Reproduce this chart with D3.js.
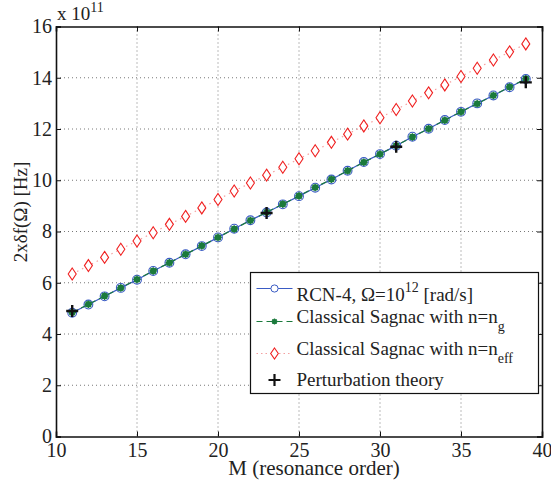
<!DOCTYPE html>
<html>
<head>
<meta charset="utf-8">
<script src="https://cdn.jsdelivr.net/npm/d3@7"></script>
<style>
  body { margin: 0; background: #fff; }
  text { font-family: "Liberation Serif", "Times New Roman", serif; fill: #222; }
</style>
</head>
<body>
<div id="chart"></div>
<script>
const CHART_ID = "chart";

// resonance order M
const orders = d3.range(11, 40);
// RCN-4, Omega = 1e12 rad/s  (x 1e11 Hz)
const rcnValues = [4.83, 5.15, 5.47, 5.80, 6.12, 6.46, 6.78, 7.11, 7.43, 7.77,
  8.11, 8.44, 8.74, 9.06, 9.38, 9.71, 10.03, 10.37, 10.71, 11.02,
  11.35, 11.70, 12.01, 12.35, 12.67, 13.00, 13.31, 13.63, 13.95];
// classical Sagnac with n = n_g
const sagnacGroup = [4.84, 5.16, 5.48, 5.80, 6.13, 6.46, 6.78, 7.11, 7.44, 7.77,
  8.10, 8.43, 8.75, 9.07, 9.39, 9.72, 10.04, 10.37, 10.70, 11.02,
  11.35, 11.69, 12.01, 12.34, 12.67, 12.99, 13.31, 13.64, 13.96];
// classical Sagnac with n = n_eff
const sagnacEff = [6.34, 6.67, 6.99, 7.31, 7.63, 7.95, 8.28, 8.59, 8.92, 9.25,
  9.58, 9.89, 10.20, 10.51, 10.84, 11.15, 11.48, 11.80, 12.12, 12.44,
  12.76, 13.09, 13.41, 13.72, 14.05, 14.37, 14.69, 15.01, 15.32];
// perturbation theory
const pertOrders = [11, 23, 31, 39];
const pertValues = [4.90, 8.72, 11.31, 13.82];

const xTicks = [10, 15, 20, 25, 30, 35, 40];
const yTicks = [0, 2, 4, 6, 8, 10, 12, 14, 16];

const size = { width: 551, height: 485 };
const margin = { top: 26.5, right: 9, bottom: 48.5, left: 56 };
const colors = { blue: "#3a5bc4", green: "#1b7a3c", red: "#f02020", pink: "#f4a0a0", black: "#111" };
const FONT = "Liberation Serif";

function drawChart() {
  const svg = d3.select("#" + CHART_ID).append("svg")
    .attr("width", size.width)
    .attr("height", size.height);

  const w = size.width - margin.left - margin.right;
  const h = size.height - margin.top - margin.bottom;

  const x = d3.scaleLinear().domain([10, 40]).range([0, w]);
  const y = d3.scaleLinear().domain([0, 16]).range([h, 0]);

  const g = svg.append("g").attr("transform", `translate(${margin.left},${margin.top})`);

  // dotted grid
  g.append("g").selectAll("line").data(xTicks.slice(1, -1)).join("line")
    .attr("x1", d => x(d)).attr("x2", d => x(d)).attr("y1", 0).attr("y2", h)
    .attr("stroke", "#555").attr("stroke-width", 0.8).attr("stroke-dasharray", "1,3");
  g.append("g").selectAll("line").data(yTicks.slice(1, -1)).join("line")
    .attr("y1", d => y(d)).attr("y2", d => y(d)).attr("x1", 0).attr("x2", w)
    .attr("stroke", "#555").attr("stroke-width", 0.8).attr("stroke-dasharray", "1,3");

  // axes with inward ticks on all four sides
  const xAxis = g.append("g").attr("transform", `translate(0,${h})`)
    .call(d3.axisBottom(x).tickValues(xTicks).tickSize(-5).tickPadding(6));
  const yAxis = g.append("g")
    .call(d3.axisLeft(y).tickValues(yTicks).tickSize(-5).tickPadding(4));
  g.append("g").call(d3.axisTop(x).tickValues(xTicks).tickSize(-5).tickFormat(""));
  g.append("g").attr("transform", `translate(${w},0)`)
    .call(d3.axisRight(y).tickValues(yTicks).tickSize(-5).tickFormat(""));
  g.selectAll(".domain").attr("stroke", "#111").attr("stroke-width", 1.6);
  g.selectAll(".tick line").attr("stroke", "#111");
  [xAxis, yAxis].forEach(a => {
    a.attr("font-family", FONT).attr("font-size", 20);
    a.selectAll("text").style("font-family", FONT).style("font-size", "20px").attr("fill", "#222");
  });

  const line = (xs, ys) => d3.line().x((d, i) => x(xs[i])).y(d => y(d))(ys);

  // RCN-4 line
  g.append("path").attr("d", line(orders, rcnValues))
    .attr("fill", "none").attr("stroke", colors.blue).attr("stroke-width", 1.2);
  g.append("g").selectAll("circle").data(rcnValues).join("circle")
    .attr("cx", (d, i) => x(orders[i])).attr("cy", d => y(d)).attr("r", 4.4)
    .attr("fill", "none").attr("stroke", colors.blue).attr("stroke-width", 1.1);

  // n = n_g
  g.append("path").attr("d", line(orders, sagnacGroup))
    .attr("fill", "none").attr("stroke", colors.green).attr("stroke-width", 1.2)
    .attr("stroke-dasharray", "6,4");
  g.append("g").selectAll("g").data(sagnacGroup).join("g")
    .attr("transform", (d, i) => `translate(${x(orders[i])},${y(d)})`)
    .each(function() { drawAsterisk(d3.select(this), 3.8); });

  // n = n_eff
  g.append("path").attr("d", line(orders, sagnacEff))
    .attr("fill", "none").attr("stroke", colors.pink).attr("stroke-width", 1.2)
    .attr("stroke-dasharray", "1.5,4");
  g.append("g").selectAll("path").data(sagnacEff).join("path")
    .attr("transform", (d, i) => `translate(${x(orders[i])},${y(d)})`)
    .attr("d", "M0,-6L4,0L0,6L-4,0Z")
    .attr("fill", "#fff").attr("stroke", colors.red).attr("stroke-width", 1.1);

  // perturbation theory
  g.append("g").selectAll("path").data(pertValues).join("path")
    .attr("transform", (d, i) => `translate(${x(pertOrders[i])},${y(d)})`)
    .attr("d", "M-6,0H6M0,-6V6")
    .attr("stroke", colors.black).attr("stroke-width", 2.4);

  // exponent label
  const expo = svg.append("text").attr("x", 57).attr("y", 20).style("font-size", "19px");
  expo.append("tspan").text("x 10");
  expo.append("tspan").attr("dy", -8).style("font-size", "14px").text("11");

  // axis labels
  svg.append("text").attr("x", margin.left + w / 2 + 15).attr("y", 475)
    .attr("text-anchor", "middle").style("font-size", "21px").text("M (resonance order)");
  svg.append("text").attr("transform", "translate(27,212) rotate(-90)")
    .attr("text-anchor", "middle").style("font-size", "19px").text("2xδf(Ω) [Hz]");

  drawLegend(svg);
}

function drawAsterisk(sel, r) {
  sel.append("circle").attr("r", r * 0.85).attr("fill", colors.green);
  sel.append("path")
    .attr("d", `M${-r},0H${r}M0,${-r}V${r}M${-r * 0.7},${-r * 0.7}L${r * 0.7},${r * 0.7}M${-r * 0.7},${r * 0.7}L${r * 0.7},${-r * 0.7}`)
    .attr("stroke", colors.green).attr("stroke-width", 1.3);
}

function drawLegend(svg) {
  const box = { x: 250.5, y: 272.5, width: 288, height: 121 };
  const lg = svg.append("g");
  lg.append("rect").attr("x", box.x).attr("y", box.y).attr("width", box.width).attr("height", box.height)
    .attr("fill", "#fff").attr("stroke", "#111").attr("stroke-width", 1.2);

  const rows = [288.5, 321.5, 353.5, 380];
  const x1 = 256.5, x2 = 292.5, xm = 274.5, xt = 296.5;

  // row 1
  lg.append("line").attr("x1", x1).attr("x2", x2).attr("y1", rows[0]).attr("y2", rows[0])
    .attr("stroke", colors.blue).attr("stroke-width", 1.2);
  lg.append("circle").attr("cx", xm).attr("cy", rows[0]).attr("r", 3.6)
    .attr("fill", "#fff").attr("stroke", colors.blue);
  const t1 = lg.append("text").attr("x", xt).attr("y", rows[0] + 12).style("font-size", "19px");
  t1.append("tspan").text("RCN-4,  Ω=10");
  t1.append("tspan").attr("dy", -9).style("font-size", "14px").text("12");
  t1.append("tspan").attr("dy", 9).text(" [rad/s]");

  // row 2
  lg.append("line").attr("x1", x1).attr("x2", x2).attr("y1", rows[1]).attr("y2", rows[1])
    .attr("stroke", colors.green).attr("stroke-width", 1.2).attr("stroke-dasharray", "6,4");
  drawAsterisk(lg.append("g").attr("transform", `translate(${xm},${rows[1]})`), 3);
  const t2 = lg.append("text").attr("x", xt).attr("y", rows[1] + 1.5).style("font-size", "19px");
  t2.append("tspan").text("Classical Sagnac with n=n");
  t2.append("tspan").attr("dy", 8).style("font-size", "14px").text("g");

  // row 3
  lg.append("line").attr("x1", x1).attr("x2", x2).attr("y1", rows[2]).attr("y2", rows[2])
    .attr("stroke", colors.pink).attr("stroke-width", 1.2).attr("stroke-dasharray", "1.5,3");
  lg.append("path").attr("transform", `translate(${xm},${rows[2]})`)
    .attr("d", "M0,-5.5L3.8,0L0,5.5L-3.8,0Z")
    .attr("fill", "#fff").attr("stroke", colors.red).attr("stroke-width", 1.1);
  const t3 = lg.append("text").attr("x", xt).attr("y", rows[2] + 1.5).style("font-size", "19px");
  t3.append("tspan").text("Classical Sagnac with n=n");
  t3.append("tspan").attr("dy", 8).style("font-size", "14px").text("eff");

  // row 4
  lg.append("path").attr("transform", `translate(${xm},${rows[3]})`)
    .attr("d", "M-6,0H6M0,-6V6").attr("stroke", colors.black).attr("stroke-width", 2.2);
  lg.append("text").attr("x", xt).attr("y", rows[3] + 6).style("font-size", "19px")
    .text("Perturbation theory");
}

drawChart();
</script>
</body>
</html>
